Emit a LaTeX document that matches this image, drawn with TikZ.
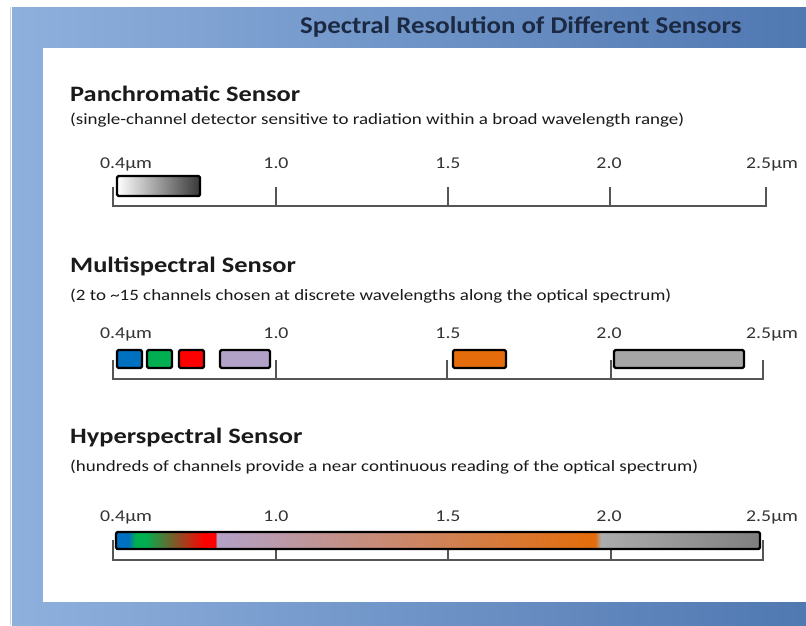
\documentclass[tikz,border=0pt]{standalone}
\usepackage{fontspec}
\setmainfont{Carlito}
\newfontfamily\widefont[FakeStretch=1.2]{Carlito}
\newfontfamily\titlefont[FakeStretch=1.12]{Carlito}
\definecolor{frameL}{HTML}{8EB0DD}
\definecolor{frameR}{HTML}{5078B1}
\definecolor{titlec}{HTML}{1C2942}
\definecolor{txt}{HTML}{1A1A1A}
\definecolor{lbl}{HTML}{333333}
\definecolor{axc}{HTML}{555555}
\definecolor{cblue}{HTML}{0070C0}
\definecolor{cgreen}{HTML}{00B050}
\definecolor{cred}{HTML}{FF0000}
\definecolor{clav}{HTML}{B3A2C7}
\definecolor{corange}{HTML}{E46C0A}
\definecolor{cgray}{HTML}{A6A6A6}
\definecolor{cgrayL}{HTML}{ADADAD}
\definecolor{cgrayD}{HTML}{7F7F7F}
\definecolor{pandark}{HTML}{383838}
% stops mapped to 25bp..75bp (TikZ maps the middle half of the shading onto the path)
\pgfdeclarehorizontalshading{hyper}{100bp}{color(0bp)=(cblue); color(25bp)=(cblue); color(25.95bp)=(cblue); color(26.5bp)=(cgreen); color(27.25bp)=(cgreen); color(31.9bp)=(cred); color(32.7bp)=(cred); color(32.85bp)=(clav); color(62.2bp)=(corange); color(62.65bp)=(cgrayL); color(75bp)=(cgrayD); color(100bp)=(cgrayD)}
\tikzset{
  heading/.style={anchor=base west, font=\widefont\fontsize{22}{25}\selectfont\bfseries, text=txt, inner sep=0pt},
  subhead/.style={anchor=base west, font=\widefont\fontsize{15.8}{18}\selectfont, text=txt, inner sep=0pt},
  tlbl/.style={anchor=base, font=\widefont\fontsize{16.5}{19}\selectfont, text=lbl, inner sep=0pt},
  tlblw/.style={anchor=base west, font=\widefont\fontsize{16.5}{19}\selectfont, text=lbl, inner sep=0pt},
  axisline/.style={draw=axc, line width=1.3pt},
  band/.style={draw=black, line width=2.2pt, rounded corners=1.5pt},
}
\begin{document}
\begin{tikzpicture}[x=1pt,y=-1pt]
\useasboundingbox (0,0) rectangle (806,625);
\fill[white] (0,0) rectangle (806,625);
\draw[gray!35, line width=0.8pt] (10,7) -- (10,625);
% frame
\shade[left color=frameL, right color=frameR] (12,7) rectangle (806,625);
\fill[white] (43,48) rectangle (806,602);
\node[anchor=base west, font=\titlefont\fontsize{24}{27}\selectfont\bfseries, text=titlec, inner sep=0pt] (title) at (300,33) {Spectral Resolution of Different Sensors};

% ---------------- Panchromatic
\node[heading] (panh) at (70,101) {Panchromatic Sensor};
\node[subhead] (pans) at (70,124) {(single-channel detector sensitive to radiation within a broad wavelength range)};
\node[tlblw] (pl04) at (100,168) {0.4µm};
\node[tlbl] (pl10) at (276,168) {1.0};
\node[tlbl] (pl15) at (448,168) {1.5};
\node[tlbl] (pl20) at (609,168) {2.0};
\node[tlblw] (pl25) at (746,168) {2.5µm};
\draw[axisline] (113,187) -- (113,206) -- (766,206) -- (766,187);
\draw[axisline] (276,187) -- (276,206) (448,187) -- (448,206) (610,187) -- (610,206);
\shade[left color=white, right color=pandark] (117,176) rectangle (200,196);
\draw[band] (117,176) rectangle (200,196);

% ---------------- Multispectral
\node[heading] (multh) at (70,272) {Multispectral Sensor};
\node[subhead] (mults) at (70,300) {(2 to \textasciitilde15 channels chosen at discrete wavelengths along the optical spectrum)};
\node[tlblw] (ml04) at (100,338) {0.4µm};
\node[tlbl] (ml10) at (276,338) {1.0};
\node[tlbl] (ml15) at (448,338) {1.5};
\node[tlbl] (ml20) at (609,338) {2.0};
\node[tlblw] (ml25) at (746,338) {2.5µm};
\draw[axisline] (113,360) -- (113,379) -- (763,379) -- (763,360);
\draw[axisline] (276,360) -- (276,379) (447,360) -- (447,379) (611,360) -- (611,379);
\draw[band, fill=cblue] (117,350) rectangle (142,368);
\draw[band, fill=cgreen] (147,350) rectangle (172,368);
\draw[band, fill=cred] (179,350) rectangle (204,368);
\draw[band, fill=clav] (220,350) rectangle (270,368);
\draw[band, fill=corange] (453,350) rectangle (506,368);
\draw[band, fill=cgray] (614,350) rectangle (744,368);

% ---------------- Hyperspectral
\node[heading] (hyph) at (70,443) {Hyperspectral Sensor};
\node[subhead] (hyps) at (70,471) {(hundreds of channels provide a near continuous reading of the optical spectrum)};
\node[tlblw] (hl04) at (100,521) {0.4µm};
\node[tlbl] (hl10) at (276,521) {1.0};
\node[tlbl] (hl15) at (448,521) {1.5};
\node[tlbl] (hl20) at (609,521) {2.0};
\node[tlblw] (hl25) at (746,521) {2.5µm};
\draw[axisline] (113,540) -- (113,560) -- (763,560) -- (763,540);
\draw[axisline] (276,548) -- (276,560) (448,548) -- (448,560) (611,548) -- (611,560);
\shade[shading=hyper] (116,532) rectangle (760,549);
\draw[band] (116,532) rectangle (760,549);
\end{tikzpicture}
\end{document}
